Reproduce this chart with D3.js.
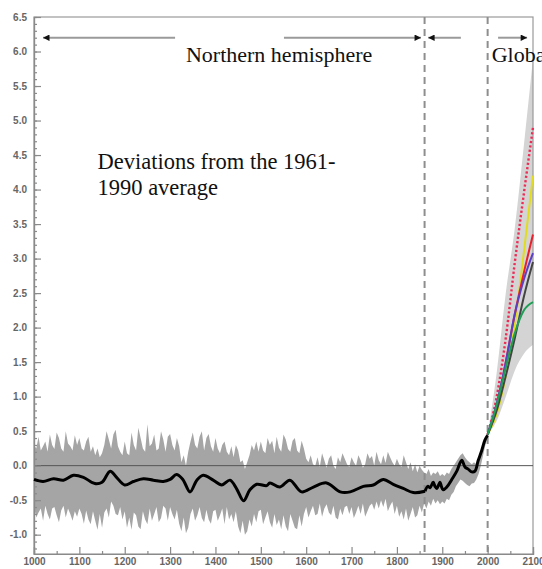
<!DOCTYPE html>
<html>
<head>
<meta charset="utf-8">
<script src="https://cdn.jsdelivr.net/npm/d3@7"></script>
<style>
html,body{margin:0;padding:0;background:#fff;overflow:hidden;}
svg{display:block;}
</style>
</head>
<body>
<svg id="chart" width="542" height="569"></svg>
<script>
// ---------- DATA ----------
// Northern hemisphere reconstruction (smoothed)
const nhYears  = [1000,1020,1043,1065,1087,1109,1134,1150,1168,1182,1200,1219,1241,1263,1285,1300,1314,1328,1344,1359,1373,1395,1414,1432,1447,1462,1476,1491,1513,1520,1542,1564,1590,1616,1645,1675,1697,1726,1748,1770,1792,1814,1836,1862];
const nhValues = [-0.20,-0.23,-0.19,-0.21,-0.14,-0.17,-0.26,-0.24,-0.08,-0.17,-0.28,-0.23,-0.19,-0.21,-0.23,-0.20,-0.13,-0.20,-0.38,-0.21,-0.14,-0.21,-0.28,-0.21,-0.34,-0.51,-0.35,-0.27,-0.29,-0.25,-0.31,-0.21,-0.38,-0.31,-0.25,-0.38,-0.38,-0.30,-0.28,-0.20,-0.27,-0.33,-0.39,-0.37];
// Instrumental record
const instYears  = [1862,1868,1873,1880,1884,1888,1895,1898,1902,1910,1921,1932,1943,1950,1957,1965,1972,1979,1987,1994,2000];
const instValues = [-0.37,-0.30,-0.32,-0.24,-0.30,-0.33,-0.24,-0.30,-0.35,-0.31,-0.20,-0.08,0.08,-0.02,-0.05,-0.09,-0.08,0.07,0.22,0.37,0.44];
// Uncertainty band (every 5 years, 1000-2000)
const bandYears = d3.range(1000, 2001, 5);
const bandUpper = [
  0.30,0.25,0.42,0.22,0.28,0.35,0.20,0.45,0.30,0.24,0.48,0.40,0.25,0.20,0.50,0.32,0.28,0.22,0.44,0.30,
  0.40,0.25,0.22,0.35,0.42,0.20,0.28,0.15,0.25,0.12,0.18,0.30,0.50,0.38,0.25,0.45,0.52,0.28,0.20,0.15,
  0.35,0.18,0.15,0.48,0.30,0.22,0.55,0.40,0.25,0.20,0.60,0.28,0.32,0.45,0.22,0.25,0.50,0.38,0.20,0.42,
  0.46,0.30,0.22,0.40,0.28,0.05,0.15,0.00,0.20,0.35,0.48,0.30,0.25,0.42,0.50,0.22,0.40,0.46,0.28,0.20,
  0.40,0.25,0.18,0.30,0.35,0.20,0.15,0.28,0.12,0.30,0.22,0.05,0.08,-0.05,0.05,0.15,0.30,0.22,0.35,0.20,
  0.35,0.22,0.18,0.40,0.30,0.36,0.18,0.42,0.26,0.20,0.45,0.38,0.24,0.20,0.36,0.40,0.22,0.18,0.36,0.25,
  0.10,0.05,0.15,0.02,0.00,0.12,-0.02,0.18,0.08,-0.03,0.10,0.15,0.00,-0.05,0.12,0.05,0.18,0.10,0.02,-0.02,
  0.12,0.05,0.00,0.15,0.08,-0.03,0.02,0.18,0.10,0.14,0.00,0.20,0.08,0.02,0.15,0.04,0.20,0.12,0.05,0.00,
  0.10,0.02,-0.02,0.15,0.05,-0.05,0.05,-0.08,0.02,-0.10,0.00,-0.06,-0.10,-0.12,-0.05,-0.15,-0.10,-0.12,-0.08,-0.15,
  -0.12,-0.15,-0.10,-0.12,-0.05,0.00,0.05,0.10,0.15,0.18,0.12,0.08,0.05,0.02,0.05,0.02,0.10,0.15,0.25,0.35,
  0.47];
const bandLower = [
  -0.60,-0.75,-0.68,-0.62,-0.80,-0.58,-0.70,-0.78,-0.62,-0.60,-0.72,-0.82,-0.65,-0.58,-0.75,-0.62,-0.70,-0.80,-0.66,-0.74,
  -0.62,-0.70,-0.84,-0.65,-0.78,-0.85,-0.66,-0.80,-0.93,-0.70,-0.90,-0.68,-0.62,-0.75,-0.52,-0.58,-0.70,-0.72,-0.60,-0.78,
  -0.66,-0.90,-0.75,-0.93,-0.68,-0.72,-0.88,-0.92,-0.66,-0.78,-0.85,-0.62,-0.80,-0.70,-0.60,-0.82,-0.76,-0.58,-0.62,-0.80,
  -0.60,-0.70,-0.78,-0.64,-0.84,-0.95,-0.75,-0.98,-0.90,-0.70,-0.62,-0.80,-0.72,-0.60,-0.76,-0.82,-0.64,-0.78,-0.84,-0.66,
  -0.64,-0.80,-0.72,-0.62,-0.85,-0.60,-0.78,-0.70,-0.82,-0.66,-0.88,-0.98,-0.80,-1.00,-0.95,-0.78,-0.88,-0.70,-0.82,-0.66,
  -0.64,-0.85,-0.75,-0.66,-0.82,-0.90,-0.70,-0.86,-0.78,-0.92,-0.72,-0.88,-0.95,-0.70,-0.80,-0.90,-0.92,-0.72,-0.88,-0.70,
  -0.60,-0.75,-0.66,-0.58,-0.72,-0.70,-0.55,-0.74,-0.62,-0.56,-0.68,-0.72,-0.58,-0.75,-0.78,-0.62,-0.72,-0.60,-0.58,-0.70,
  -0.60,-0.76,-0.68,-0.58,-0.70,-0.55,-0.74,-0.66,-0.58,-0.55,-0.64,-0.52,-0.62,-0.50,-0.60,-0.48,-0.66,-0.58,-0.52,-0.70,
  -0.58,-0.74,-0.66,-0.78,-0.62,-0.80,-0.70,-0.60,-0.75,-0.72,-0.58,-0.68,-0.55,-0.62,-0.52,-0.58,-0.48,-0.55,-0.50,-0.56,
  -0.52,-0.55,-0.48,-0.50,-0.42,-0.38,-0.30,-0.25,-0.20,-0.22,-0.25,-0.28,-0.30,-0.26,-0.25,-0.20,-0.12,0.00,0.15,0.30,
  0.40];
// Global projections 2000-2100
const projYears = [2000,2020,2040,2060,2080,2100];
const envUpper  = [0.45,1.35,2.50,3.45,4.65,5.90];
const envLower  = [0.45,0.65,1.00,1.38,1.62,1.75];
const scenarioNames  = ["dotted","yellow","red","purple","grey","green"];
const scenarioColors = ["#ee2a55","#e2dc1e","#e8202c","#5b3fc4","#444444","#1f9e55"];
const scenarioValues = [
  [0.45,1.00,1.85,2.95,3.95,4.90],
  [0.45,0.75,1.30,2.05,3.10,4.20],
  [0.45,0.85,1.50,2.20,2.80,3.35],
  [0.45,0.90,1.50,2.20,2.70,3.08],
  [0.45,0.80,1.30,1.85,2.45,2.95],
  [0.45,0.88,1.42,1.92,2.25,2.37]
];
// Axis ticks
const yMajorTicks = [-1.0,-0.5,0.0,0.5,1.0,1.5,2.0,2.5,3.0,3.5,4.0,4.5,5.0,5.5,6.0,6.5];
const yMinorTicks = d3.range(-12, 66).map(d => d / 10);
const xMajorTicks = [1000,1100,1200,1300,1400,1500,1600,1700,1800,1900,2000,2100];
const xMinorTicks = [1050,1150,1250,1350,1450,1550,1650,1750,1850,1950,2050];
// Period markers
const dividerYears = [1861, 2000];
const arrowLevel = 6.2;
const arrowSpans = [[1311,1020],[1551,1853],[1941,1869],[2023,2087]];
const labels = [
  {text:"Northern hemisphere", year:1335, value:5.85},
  {text:"Global", year:2009, value:5.85}
];
const noteLines = ["Deviations from the 1961-", "1990 average"];

// ---------- DRAW ----------
const svg = d3.select("#chart");
const x = d3.scaleLinear().domain([1000, 2100]).range([34, 533]);
const y = d3.scaleLinear().domain([-1.28, 6.5]).range([554, 17]);

// projection envelope
const envData = projYears.map((yr,i)=>({yr, lo:envLower[i], hi:envUpper[i]}));
svg.append("path").datum(envData)
  .attr("fill","#d4d4d4")
  .attr("d", d3.area().x(d=>x(d.yr)).y0(d=>y(d.lo)).y1(d=>y(d.hi)).curve(d3.curveMonotoneX));

// historical band
const bandData = bandYears.map((yr,i)=>({yr, lo:bandLower[i], hi:bandUpper[i]}));
svg.append("path").datum(bandData)
  .attr("fill","#a5a5a5")
  .attr("d", d3.area().x(d=>x(d.yr)).y0(d=>y(d.lo)).y1(d=>y(d.hi)));

// frame
svg.append("rect").attr("x", x(1000)).attr("y", y(6.5))
  .attr("width", x(2100)-x(1000)).attr("height", y(-1.28)-y(6.5))
  .attr("fill","none").attr("stroke","#9a9a9a").attr("stroke-width",1.2);

// zero line
svg.append("line").attr("x1", x(1000)).attr("x2", x(2100))
  .attr("y1", y(0)).attr("y2", y(0)).attr("stroke","#555").attr("stroke-width",1);

// dashed dividers
svg.selectAll(".divider").data(dividerYears).enter().append("line")
  .attr("x1", d=>x(d)).attr("x2", d=>x(d))
  .attr("y1", y(6.5)).attr("y2", y(-1.28))
  .attr("stroke","#8e8e8e").attr("stroke-width",2).attr("stroke-dasharray","7,5");

// axes
const fontAxis = "'Liberation Sans', Arial, sans-serif";
function styleAxis(g){
  g.selectAll(".domain").attr("stroke","#8a8a8a").attr("stroke-width",1.2);
  g.selectAll(".tick line").attr("stroke","#8a8a8a").attr("stroke-width",1.2);
  g.selectAll("text").attr("fill","#666").attr("font-family",fontAxis)
   .attr("font-weight","bold").attr("font-size","10px");
}
svg.append("g").attr("transform",`translate(${x(1000)},0)`)
  .call(d3.axisLeft(y).tickValues(yMinorTicks).tickSize(-3).tickFormat(""))
  .call(styleAxis);
svg.append("g").attr("transform",`translate(${x(1000)},0)`)
  .call(d3.axisLeft(y).tickValues(yMajorTicks).tickSize(-7).tickPadding(7).tickFormat(d=>d.toFixed(1)))
  .call(styleAxis);
svg.append("g").attr("transform",`translate(0,${y(-1.28)})`)
  .call(d3.axisBottom(x).tickValues(xMinorTicks).tickSize(-3).tickFormat(""))
  .call(styleAxis);
svg.append("g").attr("transform",`translate(0,${y(-1.28)})`)
  .call(d3.axisBottom(x).tickValues(xMajorTicks).tickSize(-7).tickPadding(4).tickFormat(d3.format("d")))
  .call(styleAxis);

// scenario lines
scenarioValues.forEach((vals,i)=>{
  const pts = projYears.map((yr,j)=>[yr, vals[j]]);
  const p = svg.append("path").datum(pts)
    .attr("fill","none").attr("stroke",scenarioColors[i])
    .attr("stroke-width", 2)
    .attr("d", d3.line().x(d=>x(d[0])).y(d=>y(d[1])).curve(d3.curveMonotoneX));
  if (scenarioNames[i]==="dotted") p.attr("stroke-dasharray","2.2,2.2").attr("stroke-width",2.4);
});

// black temperature curve
svg.append("path").datum(nhYears.map((yr,i)=>[yr,nhValues[i]]))
  .attr("fill","none").attr("stroke","#000").attr("stroke-width",3)
  .attr("stroke-linejoin","round")
  .attr("d", d3.line().x(d=>x(d[0])).y(d=>y(d[1])).curve(d3.curveCatmullRom));
svg.append("path").datum(instYears.map((yr,i)=>[yr,instValues[i]]))
  .attr("fill","none").attr("stroke","#000").attr("stroke-width",3)
  .attr("stroke-linejoin","round")
  .attr("d", d3.line().x(d=>x(d[0])).y(d=>y(d[1])).curve(d3.curveCatmullRom));

// arrows
const defs = svg.append("defs");
defs.append("marker").attr("id","ah").attr("viewBox","0 0 10 10")
  .attr("refX",10).attr("refY",5).attr("markerWidth",4).attr("markerHeight",3.2)
  .attr("markerUnits","strokeWidth").attr("orient","auto")
  .append("path").attr("d","M0,0L10,5L0,10z").attr("fill","#111");
svg.selectAll(".arrow").data(arrowSpans).enter().append("line")
  .attr("x1", d=>x(d[0])).attr("x2", d=>x(d[1]))
  .attr("y1", y(arrowLevel)).attr("y2", y(arrowLevel))
  .attr("stroke","#9a9a9a").attr("stroke-width",2)
  .attr("marker-end","url(#ah)");

// labels
const fontSerif = "'Liberation Serif', 'Times New Roman', serif";
svg.selectAll(".lbl").data(labels).enter().append("text")
  .attr("x", d=>x(d.year)).attr("y", d=>y(d.value))
  .attr("font-family", fontSerif).attr("font-size","22px").attr("fill","#111")
  .text(d=>d.text);
svg.append("text").attr("x", x(1140)).attr("y", y(4.3))
  .attr("font-family", fontSerif).attr("font-size","22.5px").attr("fill","#111")
  .selectAll("tspan").data(noteLines).enter().append("tspan")
  .attr("x", x(1140)).attr("dy",(d,i)=> i===0 ? 0 : 26).text(d=>d);
</script>
</body>
</html>
